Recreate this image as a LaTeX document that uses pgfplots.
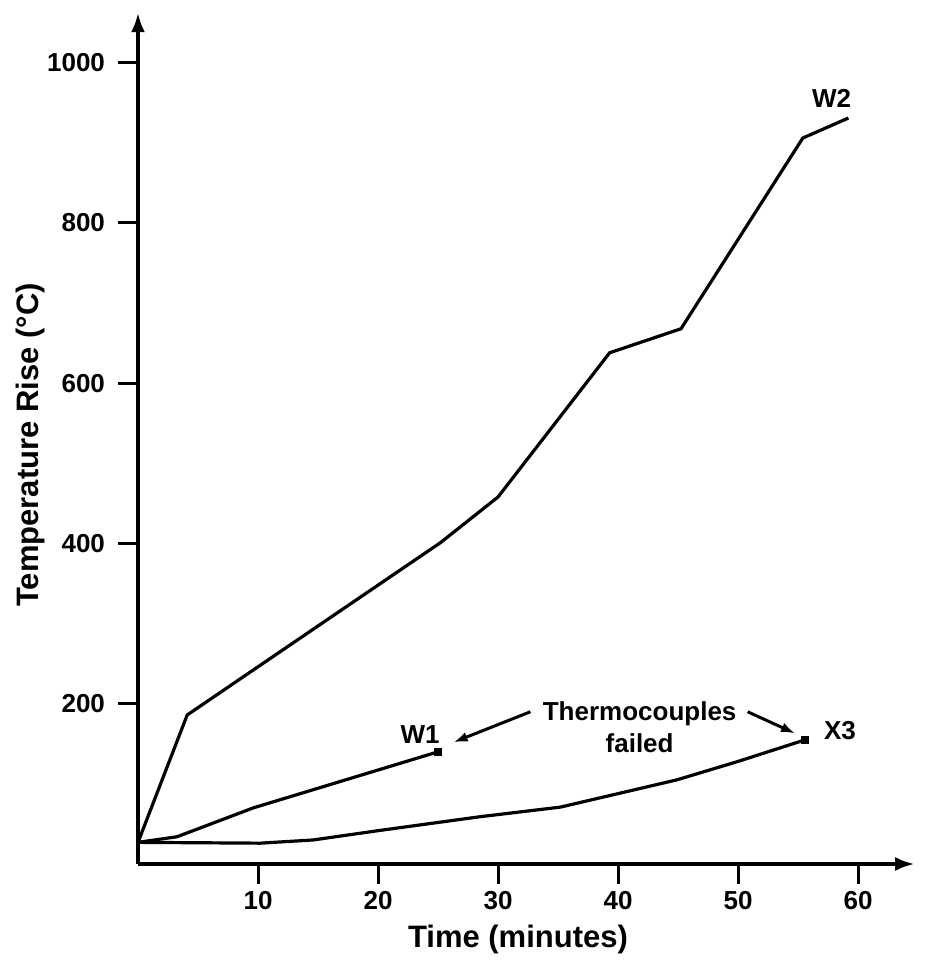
\documentclass[border=0pt]{standalone}
\usepackage{pgfplots}
\pgfplotsset{compat=1.18}
\usetikzlibrary{arrows.meta}
\usepackage{fontspec}
\setmainfont{Liberation Sans}
\begin{document}
\begin{tikzpicture}
\begin{axis}[
  x=6pt, y=0.400625pt,
  xmin=0, xmax=64.75, ymin=0, ymax=1063,
  axis lines=left,
  axis line style={line width=2pt},
  x axis line style={-{Latex[length=10pt,width=7pt]}},
  y axis line style={-{Latex[length=10pt,width=7pt]}},
  xtick={10,20,30,40,50,60},
  ytick={200,400,600,800,1000},
  tick align=outside,
  major tick length=10pt,
  tick style={line width=1.5pt, black},
  /pgf/number format/assume math mode=true,
  /pgf/number format/set thousands separator={},
  tick label style={font=\fontsize{13}{15}\selectfont\bfseries},
  xticklabel style={yshift=0pt},
  yticklabel style={xshift=-3pt},
  xlabel={Time (minutes)},
  ylabel={Temperature Rise (°C)},
  label style={font=\fontsize{15.5}{18}\selectfont\bfseries},
  xlabel style={at={(rel axis cs:0.489,-0.089)}, anchor=center},
  ylabel style={at={(rel axis cs:-0.139,0.492)}, anchor=center, rotate=0},
  clip=false,
]
% W2
\addplot[black, line width=1.6pt] coordinates {
  (0,27) (4.1,186) (25.2,401) (30,458) (39.3,638) (45.25,668) (55.4,906) (59.2,931)
};
% W1
\addplot[black, line width=1.6pt, mark=square*, mark size=1.1pt, mark indices={4}] coordinates {
  (0,27) (3.25,34) (9.6,70) (25,140)
};
% X3
\addplot[black, line width=1.6pt, mark=square*, mark size=1.1pt, mark indices={9}] coordinates {
  (0,27) (10.2,26) (14.6,30) (20.2,42) (28.5,59) (35.2,71) (44.9,105) (50,128) (55.6,155)
};
\node[font=\fontsize{13}{15}\selectfont\bfseries] at (axis cs:57.8,956) {W2};
\node[font=\fontsize{13}{15}\selectfont\bfseries] at (axis cs:23.5,161) {W1};
\node[font=\fontsize{13}{15}\selectfont\bfseries] at (axis cs:58.5,167) {X3};
\node[font=\fontsize{13}{15}\selectfont\bfseries, align=center, inner sep=0pt] at (axis cs:41.8,171) {Thermocouples\\[1pt]failed};
\draw[line width=1.5pt, -{Latex[length=7pt,width=5pt]}] (axis cs:32.7,190) -- (axis cs:26.3,152);
\draw[line width=1.5pt, -{Latex[length=7pt,width=5pt]}] (axis cs:50.8,190) -- (axis cs:54.75,163);
\coordinate (bbbl) at (axis cs:-11.5,-121.06);
\coordinate (bbtr) at (axis cs:66.33,1078.3);
\end{axis}
\pgfresetboundingbox
\useasboundingbox (bbbl) rectangle (bbtr);
\end{tikzpicture}
\end{document}
